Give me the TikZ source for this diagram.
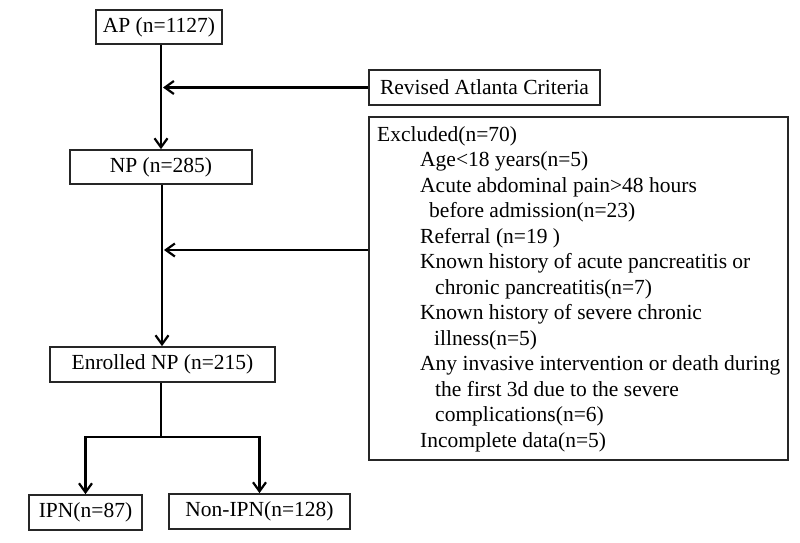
\documentclass[tikz,border=0pt]{standalone}
\usepackage{fontspec}
\setmainfont{Liberation Serif}
\usetikzlibrary{arrows.meta}
\begin{document}
\begin{tikzpicture}[x=1pt,y=-1pt,
  box/.style={draw=black!85,line width=1.7pt,inner sep=0pt,font=\fontsize{21.5}{25.5}\selectfont},
  arr/.style={line width=2.6pt,-{Straight Barb[length=9pt,width=13pt,line width=2.2pt]}},
  ln/.style={line width=2.6pt}]
\useasboundingbox[fill=white] (0,0) rectangle (800,543);
\node[box,minimum width=126pt,minimum height=34pt] (ap) at (159,27) {AP (n=1127)};
\node[box,minimum width=182pt,minimum height=34pt] (np) at (161,167) {NP (n=285)};
\node[box,minimum width=225pt,minimum height=35pt] (en) at (162.5,364.5) {Enrolled NP (n=215)};
\node[box,minimum width=113pt,minimum height=35pt] (ipn) at (85.5,512.5) {IPN(n=87)};
\node[box,minimum width=181pt,minimum height=35pt] (non) at (259.5,511.5) {Non-IPN(n=128)};
\node[box,minimum width=231pt,minimum height=35pt] (rac) at (484.5,87.5) {Revised Atlanta Criteria};
\node[box,minimum width=419pt,minimum height=343pt] (exc) at (578.5,288.5) {};
\node[anchor=north west,align=left,inner sep=0pt,font=\fontsize{21.5}{25.5}\selectfont] (exctext) at (377,126) {%
Excluded(n=70)\\
\hspace*{43pt}Age<18 years(n=5)\\
\hspace*{43pt}Acute abdominal pain>48 hours\\
\hspace*{52pt}before admission(n=23)\\
\hspace*{43pt}Referral (n=19 )\\
\hspace*{43pt}Known history of acute pancreatitis or\\
\hspace*{58pt}chronic pancreatitis(n=7)\\
\hspace*{43pt}Known history of severe chronic\\
\hspace*{57pt}illness(n=5)\\
\hspace*{43pt}Any invasive intervention or death during\\
\hspace*{58pt}the first 3d due to the severe\\
\hspace*{58pt}complications(n=6)\\
\hspace*{43pt}Incomplete data(n=5)};
\coordinate (t1) at (161,87.5);
\coordinate (t2) at (162,250);
\coordinate (e1) at (exc.west |- t2);
\coordinate (br) at (161,437);
\draw[arr] (ap.south -| t1) -- (np.north -| t1);
\draw[arr] (np.south -| t2) -- (en.north -| t2);
\draw[arr] (rac.west) -- ([xshift=2pt]t1);
\draw[arr] (e1) -- ([xshift=2pt]t2);
\draw[ln] (en.south -| br) -- (br);
\draw[arr] (br) -| (ipn.north);
\draw[arr] (br) -| (non.north);
\end{tikzpicture}
\end{document}
